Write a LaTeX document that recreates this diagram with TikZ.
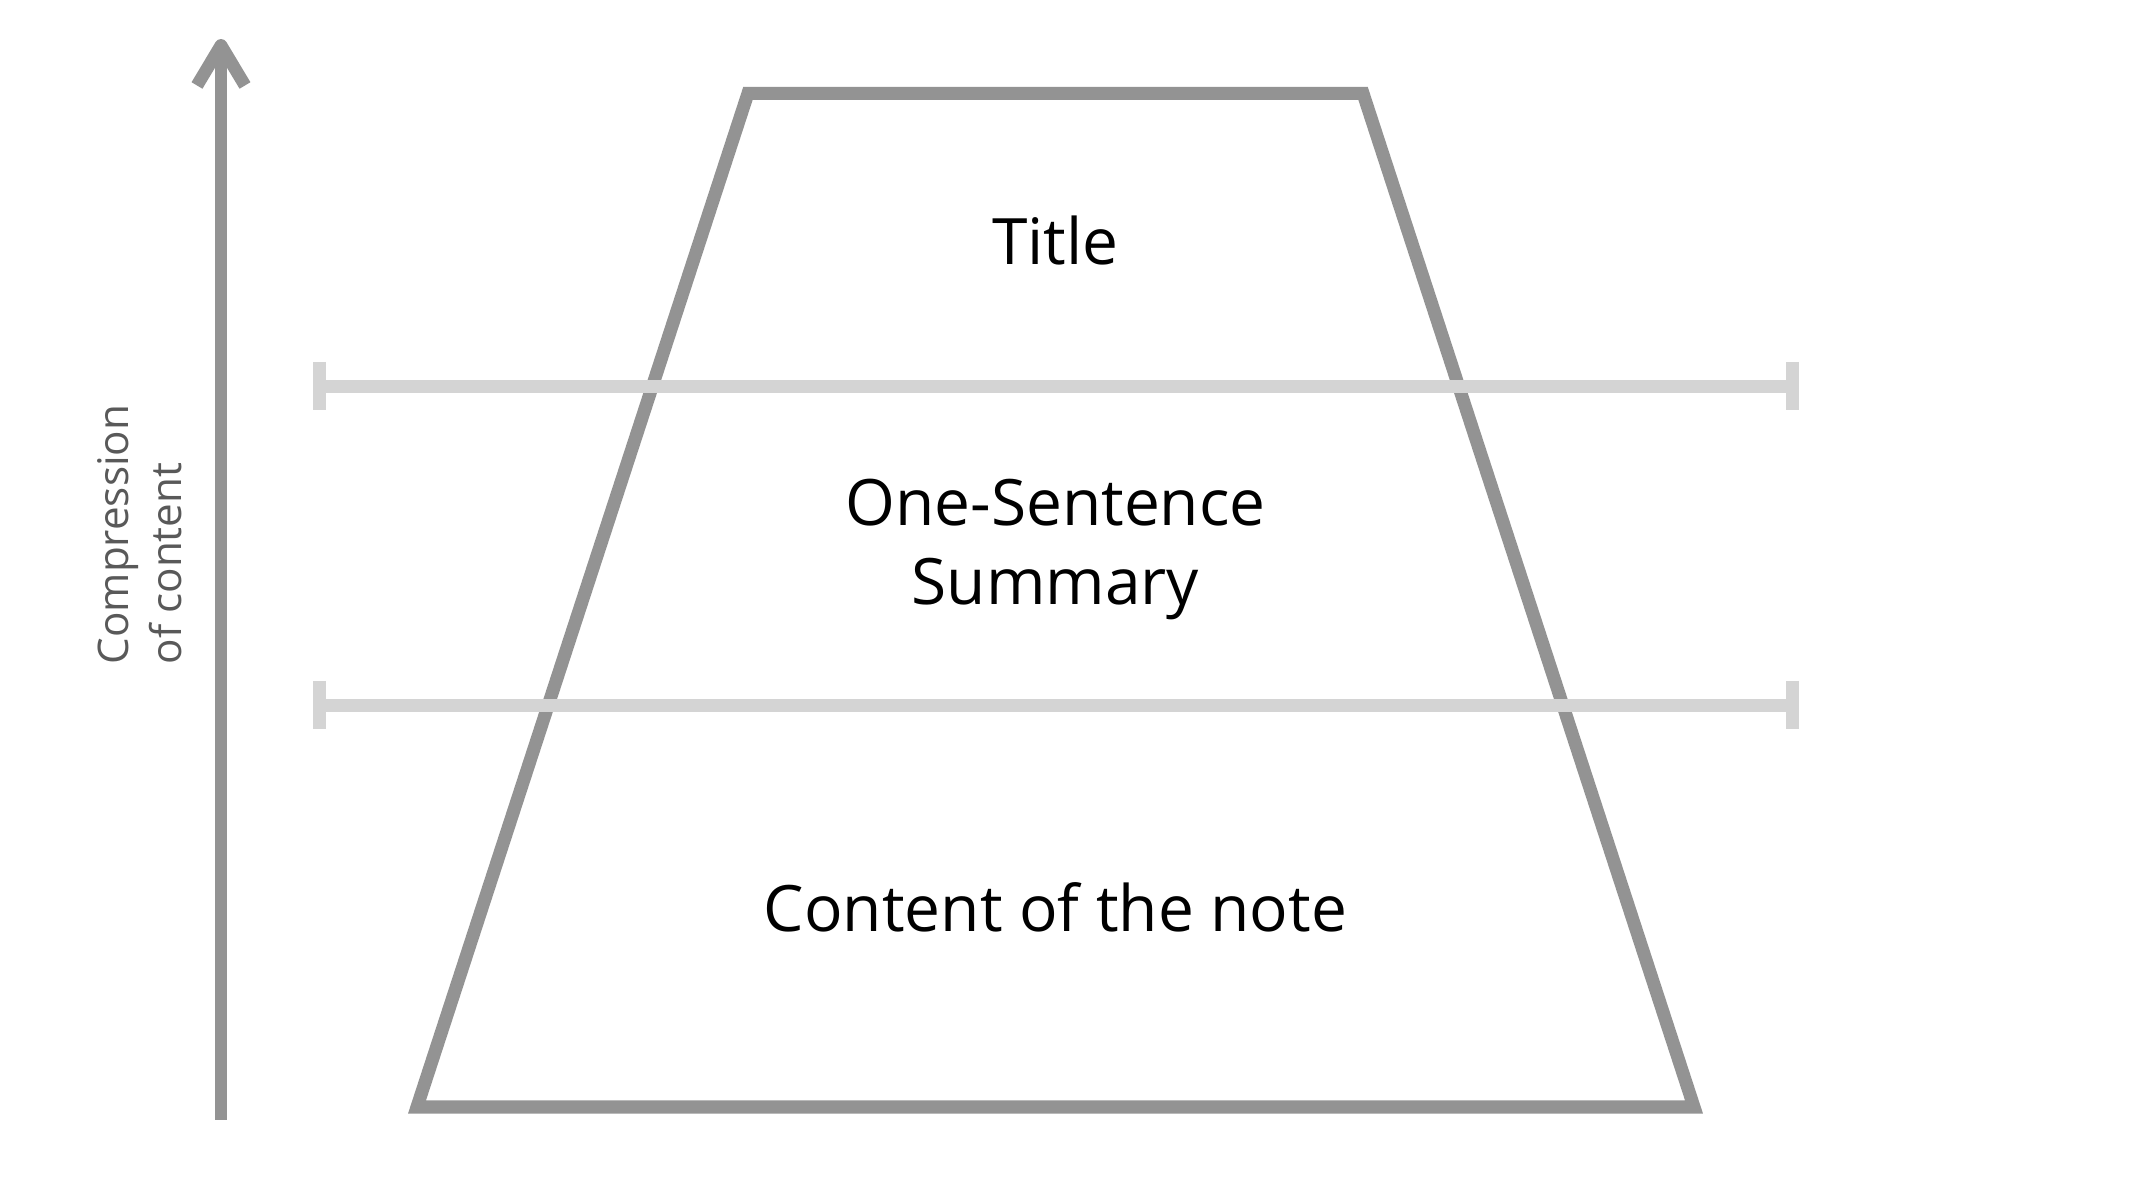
\documentclass[tikz,border=0pt]{standalone}
\usepackage{fontspec}
\setmainfont{Open Sans}
\usepackage{xcolor}
\definecolor{noteframe}{HTML}{939393}
\definecolor{notelevel}{HTML}{D4D4D4}
\definecolor{notelabel}{HTML}{595959}

\begin{document}
\begin{tikzpicture}[
  x=0.01cm,
  y=-0.01cm,
  every node/.style={inner sep=0pt, font=\fontsize{18.2}{22.5}\selectfont}
]
  \useasboundingbox (0,0) rectangle (2142,1192);

  % compression arrow
  \draw[noteframe, line width=0.127cm] (221,1120) -- (221,45.4);
  \draw[noteframe, line width=0.127cm, line join=round]
    (197,85.5) -- (221,45.4) -- (245,85.5);
  \node[notelabel, rotate=90, align=left, anchor=base west,
        font=\fontsize{12}{14.8}\selectfont] (axislabel) at (181,665)
    {Compression\\of content};

  % pyramid of the note
  \draw[noteframe, line width=0.13cm]
    (748,93.3) -- (1363,93.3) -- (1694,1107) -- (417,1107) -- cycle;

  % level separators
  \draw[notelevel, line width=0.13cm] (319.5,386.5) -- (1792.5,386.5);
  \draw[notelevel, line width=0.13cm] (319.5,362) -- (319.5,410);
  \draw[notelevel, line width=0.13cm] (1792.5,362) -- (1792.5,410);
  \draw[notelevel, line width=0.13cm] (319.5,705.3) -- (1792.5,705.3);
  \draw[notelevel, line width=0.13cm] (319.5,681) -- (319.5,729.3);
  \draw[notelevel, line width=0.13cm] (1792.5,681) -- (1792.5,729.3);

  \node[anchor=base] (title) at (1055.5,265) {Title};
  \node[anchor=base, align=center] (summary) at (1055.5,605)
    {One-Sentence\\Summary};
  \node[anchor=base] (content) at (1055.5,932) {Content of the note};
\end{tikzpicture}
\end{document}
